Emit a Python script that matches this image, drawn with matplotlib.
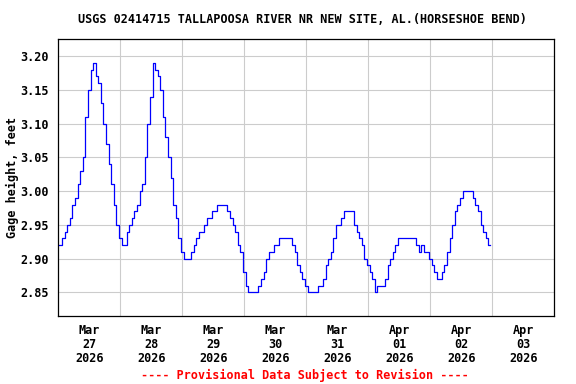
import matplotlib
matplotlib.use("Agg")
import matplotlib.pyplot as plt
import matplotlib.dates as mdates
import pandas as pd

# hourly gage height readings, starting 2026-03-27 00:00
gage = [
    2.92, 2.92, 2.93, 2.94, 2.95, 2.96, 2.98, 2.99, 3.01, 3.03, 3.05, 3.11,
    3.15, 3.18, 3.19, 3.17, 3.16, 3.13, 3.10, 3.07, 3.04, 3.01, 2.98, 2.95,
    2.93, 2.92, 2.92, 2.94, 2.95, 2.96, 2.97, 2.98, 3.00, 3.01, 3.05, 3.10,
    3.14, 3.19, 3.18, 3.17, 3.15, 3.11, 3.08, 3.05, 3.02, 2.98, 2.96, 2.93,
    2.91, 2.90, 2.90, 2.90, 2.91, 2.92, 2.93, 2.94, 2.94, 2.95, 2.96, 2.96,
    2.97, 2.97, 2.98, 2.98, 2.98, 2.98, 2.97, 2.96, 2.95, 2.94, 2.92, 2.91,
    2.88, 2.86, 2.85, 2.85, 2.85, 2.85, 2.86, 2.87, 2.88, 2.90, 2.91, 2.91,
    2.92, 2.92, 2.93, 2.93, 2.93, 2.93, 2.93, 2.92, 2.91, 2.89, 2.88, 2.87,
    2.86, 2.85, 2.85, 2.85, 2.85, 2.86, 2.86, 2.87, 2.89, 2.90, 2.91, 2.93,
    2.95, 2.95, 2.96, 2.97, 2.97, 2.97, 2.97, 2.95, 2.94, 2.93, 2.92, 2.90,
    2.89, 2.88, 2.87, 2.85, 2.86, 2.86, 2.86, 2.87, 2.89, 2.90, 2.91, 2.92,
    2.93, 2.93, 2.93, 2.93, 2.93, 2.93, 2.93, 2.92, 2.91, 2.92, 2.91, 2.91,
    2.90, 2.89, 2.88, 2.87, 2.87, 2.88, 2.89, 2.91, 2.93, 2.95, 2.97, 2.98,
    2.99, 3.00, 3.00, 3.00, 3.00, 2.99, 2.98, 2.97, 2.95, 2.94, 2.93, 2.92,
]
times = pd.date_range("2026-03-27 00:00", periods=len(gage), freq="h")

title = "USGS 02414715 TALLAPOOSA RIVER NR NEW SITE, AL.(HORSESHOE BEND)"
ylabel = "Gage height, feet"
footer = "---- Provisional Data Subject to Revision ----"
yticks = [2.85, 2.90, 2.95, 3.00, 3.05, 3.10, 3.15, 3.20]
label_days = pd.date_range("2026-03-27 12:00", periods=8, freq="D")
grid_days = pd.date_range("2026-03-28", periods=7, freq="D")

font = "DejaVu Sans Mono"
fs = 8.5

fig = plt.figure(figsize=(5.76, 3.84), dpi=100)
ax = fig.add_axes([0.1012, 0.1771, 0.8611, 0.7206])

ax.plot(times, gage, color="#0000ff", lw=0.9, drawstyle="steps-mid")

ax.set_xlim(pd.Timestamp("2026-03-27"), pd.Timestamp("2026-04-04"))
ax.set_ylim(2.815, 3.225)

for d in grid_days:
    ax.axvline(d, color="#cccccc", lw=0.8, zorder=0)
for v in yticks:
    ax.axhline(v, color="#cccccc", lw=0.8, zorder=0)

ax.set_yticks(yticks)
ax.set_yticklabels([f"{v:.2f}" for v in yticks], fontfamily=font,
                   fontweight="bold", fontsize=fs)
ax.set_xticks(label_days)
ax.set_xticklabels([d.strftime("%b\n%d\n%Y") for d in label_days],
                   fontfamily=font, fontweight="bold", fontsize=fs,
                   linespacing=1.1)
ax.tick_params(axis="both", length=0)
ax.tick_params(axis="x", pad=6)
ax.tick_params(axis="y", pad=7)

for s in ax.spines.values():
    s.set_linewidth(0.9)
    s.set_color("black")

fig.text(0.021, (0.1771 + 0.8977) / 2, ylabel, rotation=90, ha="center",
         va="center", fontfamily=font, fontweight="bold", fontsize=fs)
fig.text(0.525, 0.9505, title, ha="center", va="center", fontfamily=font,
         fontweight="bold", fontsize=fs)
fig.text(0.530, 0.023, footer, ha="center", va="center", color="red",
         fontfamily=font, fontweight="bold", fontsize=fs)

fig.savefig("out.png", dpi=100)
